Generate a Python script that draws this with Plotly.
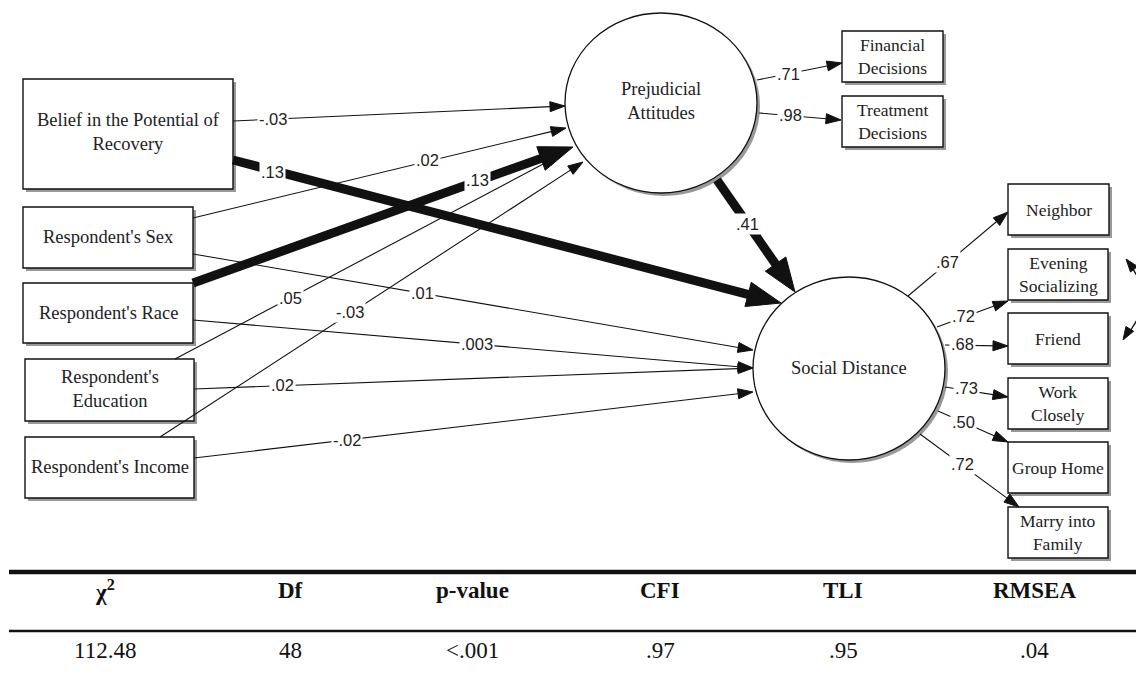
import math
import plotly.graph_objects as go

# ---------------- data ----------------
exogenous_labels = ["Belief in the Potential of<br>Recovery", "Respondent's Sex", "Respondent's Race",
                    "Respondent's<br>Education", "Respondent's Income"]
latent_labels = ["Prejudicial<br>Attitudes", "Social Distance"]
prejudice_indicators = ["Financial<br>Decisions", "Treatment<br>Decisions"]
distance_indicators = ["Neighbor", "Evening<br>Socializing", "Friend", "Work<br>Closely", "Group Home",
                       "Marry into<br>Family"]
coef_to_prejudice = ["-.03", ".02", ".13", ".05", "-.03"]      # belief, sex, race, education, income
coef_to_distance = [".13", ".01", ".003", ".02", "-.02"]       # belief, sex, race, education, income
coef_prejudice_to_distance = ".41"
loadings_prejudice = [".71", ".98"]
loadings_distance = [".67", ".72", ".68", ".73", ".50", ".72"]
fit_headers = ["χ<sup>2</sup>", "Df", "p-value", "CFI", "TLI", "RMSEA"]
fit_values = ["112.48", "48", "&lt;.001", ".97", ".95", ".04"]

# ---------------- layout geometry (page pixel space) ----------------
W, H = 1136, 684
exo_boxes = [(23, 79, 233, 189), (23, 207, 193, 268), (23, 283, 193, 343), (25, 359, 194, 421), (25, 437, 194, 498)]
exo_text_y = [132, 237, 313, 389, 467]
latent_ellipses = [(565, 13, 757, 193), (753, 277, 945, 460)]
latent_text_y = [101, 368]
pa_ind_boxes = [(842, 31, 943, 82), (842, 96, 943, 147)]
sd_ind_boxes = [(1008, 184, 1109, 235), (1008, 249, 1108, 300), (1008, 313, 1108, 364),
                (1008, 378, 1108, 429), (1008, 442, 1108, 493), (1008, 507, 1108, 558)]

to_pa_geom = [((233, 121), (565, 106), (273, 119)), ((193, 218), (566, 128), (427, 160)),
              ((193, 283), (573, 147), (477, 180)), ((175, 359), (562, 154), (290, 298)),
              ((160, 437), (583, 162), (350, 312))]
to_pa_thick = [False, False, True, False, False]
to_sd_geom = [((233, 160), (781, 303), (272, 172)), ((193, 254), (753, 350), (422, 293)),
              ((193, 320), (753, 368), (477, 344)), ((194, 389), (753, 368), (282, 385)),
              ((194, 458), (753, 392), (347, 440))]
to_sd_thick = [True, False, False, False, False]
pa_sd_geom = ((717, 180), (795, 292), (747, 224))
pa_load_geom = [((757, 80), (842, 63), (788, 74)), ((759, 113), (841, 120), (790, 115))]
sd_load_geom = [((908, 296), (1008, 212), (947, 262)), ((937, 327), (1008, 301), (963, 316)),
                ((945, 345), (1008, 346), (962, 344)), ((945, 387), (1008, 397), (966, 388)),
                ((938, 411), (1008, 442), (963, 422)), ((920, 434), (1019, 507), (962, 464))]

table_col_x = [105, 290, 472, 660, 843, 1034]
table_top_y, table_mid_y = 572, 631
table_head_y, table_val_y = 590, 650

SERIF = "Liberation Serif"
SANS = "Liberation Sans"
INK = "#111111"
SHADOW = "#999999"

shapes = []
annotations = []


def add_box(b, label, size, ty=None):
    x0, y0, x1, y1 = b
    shapes.append(dict(type="rect", x0=x0 + 3, y0=y0 + 3, x1=x1 + 3, y1=y1 + 3, xref="x", yref="y",
                       fillcolor=SHADOW, line=dict(width=0)))
    shapes.append(dict(type="rect", x0=x0, y0=y0, x1=x1, y1=y1, xref="x", yref="y",
                       fillcolor="white", line=dict(color=INK, width=1.4)))
    annotations.append(dict(x=(x0 + x1) / 2, y=ty if ty is not None else (y0 + y1) / 2, text=label,
                            showarrow=False, font=dict(family=SERIF, size=size, color="#222"),
                            xref="x", yref="y"))


def add_ellipse(e, label, ty):
    x0, y0, x1, y1 = e
    shapes.append(dict(type="circle", x0=x0 + 3, y0=y0 + 3, x1=x1 + 3, y1=y1 + 3, xref="x", yref="y",
                       fillcolor=SHADOW, line=dict(width=0)))
    shapes.append(dict(type="circle", x0=x0, y0=y0, x1=x1, y1=y1, xref="x", yref="y",
                       fillcolor="white", line=dict(color=INK, width=1.3)))
    annotations.append(dict(x=(x0 + x1) / 2, y=ty, text=label, showarrow=False,
                            font=dict(family=SERIF, size=18.5, color="#222"), xref="x", yref="y"))


def add_arrow(start, tip, thick=False):
    x0, y0 = start
    x1, y1 = tip
    dx, dy = x1 - x0, y1 - y0
    d = math.hypot(dx, dy)
    ux, uy = dx / d, dy / d
    px, py = -uy, ux
    if thick:
        L, Wd, lw = 34, 12.5, 9
    else:
        L, Wd, lw = 15, 5, 1.1
    bx, by = x1 - ux * L, y1 - uy * L
    ex, ey = x1 - ux * L * 0.6, y1 - uy * L * 0.6
    shapes.append(dict(type="line", x0=x0, y0=y0, x1=ex, y1=ey, xref="x", yref="y",
                       line=dict(color=INK, width=lw)))
    shapes.append(dict(type="path", xref="x", yref="y",
                       path=f"M {x1},{y1} L {bx + px * Wd},{by + py * Wd} L {bx - px * Wd},{by - py * Wd} Z",
                       fillcolor=INK, line=dict(color=INK, width=1)))


def add_coef(pos, text):
    annotations.append(dict(x=pos[0], y=pos[1], text=text, showarrow=False, bgcolor="white", borderpad=1,
                            font=dict(family=SANS, size=16.5, color="#222"), xref="x", yref="y"))


# nodes
for b, lab, ty in zip(exo_boxes, exogenous_labels, exo_text_y):
    add_box(b, lab, 18.5, ty)
for e, lab, ty in zip(latent_ellipses, latent_labels, latent_text_y):
    add_ellipse(e, lab, ty)
for b, lab in zip(pa_ind_boxes, prejudice_indicators):
    add_box(b, lab, 17.5)
for b, lab in zip(sd_ind_boxes, distance_indicators):
    add_box(b, lab, 17.5)

# paths
for (s, t, lp), c, th in zip(to_pa_geom, coef_to_prejudice, to_pa_thick):
    add_arrow(s, t, th)
    add_coef(lp, c)
for (s, t, lp), c, th in zip(to_sd_geom, coef_to_distance, to_sd_thick):
    add_arrow(s, t, th)
    add_coef(lp, c)
add_arrow(pa_sd_geom[0], pa_sd_geom[1], True)
add_coef(pa_sd_geom[2], coef_prejudice_to_distance)
for (s, t, lp), c in zip(pa_load_geom, loadings_prejudice):
    add_arrow(s, t)
    add_coef(lp, c)
for (s, t, lp), c in zip(sd_load_geom, loadings_distance):
    add_arrow(s, t)
    add_coef(lp, c)

# correlated residuals (curve leaving right edge)
shapes.append(dict(type="path", xref="x", yref="y", path="M 1128,262 Q 1158,300 1125,337",
                   line=dict(color=INK, width=1.3)))
for tip, frm in [((1126, 259), (1137, 273)), ((1123, 340), (1137, 317))]:
    dx, dy = tip[0] - frm[0], tip[1] - frm[1]
    d = math.hypot(dx, dy)
    ux, uy = dx / d, dy / d
    px, py = -uy, ux
    bx, by = tip[0] - ux * 13, tip[1] - uy * 13
    shapes.append(dict(type="path", xref="x", yref="y",
                       path=f"M {tip[0]},{tip[1]} L {bx + px * 4.5},{by + py * 4.5} L {bx - px * 4.5},{by - py * 4.5} Z",
                       fillcolor=INK, line=dict(color=INK, width=1)))

# fit table
shapes.append(dict(type="line", x0=9, x1=W, y0=table_top_y, y1=table_top_y, xref="x", yref="y",
                   line=dict(color=INK, width=4.5)))
shapes.append(dict(type="line", x0=9, x1=W, y0=table_mid_y, y1=table_mid_y, xref="x", yref="y",
                   line=dict(color=INK, width=2.5)))
for cx, h, v in zip(table_col_x, fit_headers, fit_values):
    annotations.append(dict(x=cx, y=table_head_y, text=f"<b>{h}</b>", showarrow=False,
                            font=dict(family=SERIF, size=23, color="#111"), xref="x", yref="y"))
    annotations.append(dict(x=cx, y=table_val_y, text=v, showarrow=False,
                            font=dict(family=SERIF, size=23, color="#111"), xref="x", yref="y"))

fig = go.Figure(go.Scatter(x=[None], y=[None], showlegend=False, hoverinfo="skip"))
fig.update_layout(width=W, height=H, margin=dict(l=0, r=0, t=0, b=0),
                  paper_bgcolor="white", plot_bgcolor="white", showlegend=False,
                  xaxis=dict(range=[0, W], visible=False, fixedrange=True),
                  yaxis=dict(range=[H, 0], visible=False, fixedrange=True),
                  shapes=shapes, annotations=annotations)
fig.write_html("out.html", config={"displayModeBar": False},
               post_script="document.body.style.margin='0';document.body.style.overflow='hidden';")
